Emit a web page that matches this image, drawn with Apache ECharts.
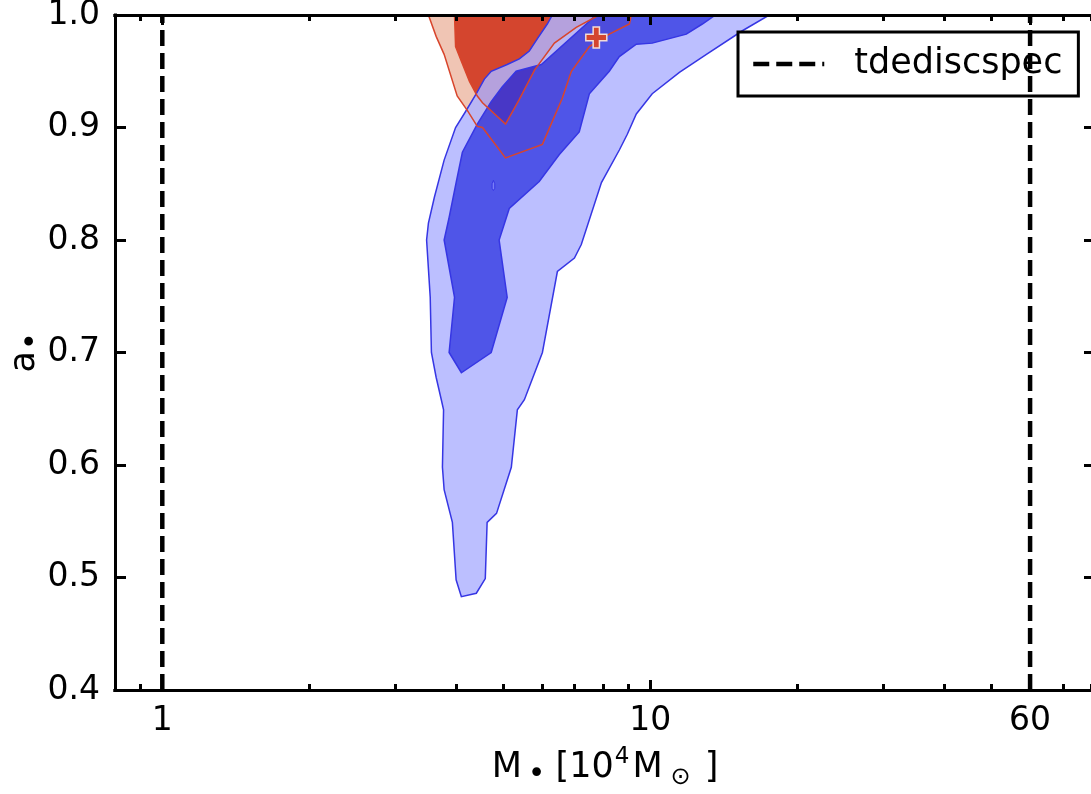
<!DOCTYPE html>
<html><head><meta charset="utf-8">
<script src="https://cdn.jsdelivr.net/npm/echarts@6/dist/echarts.min.js"></script>
<style>html,body{margin:0;padding:0;background:#fff}#c{width:1091px;height:794px}</style>
</head><body><div id="c"></div>
<script>
// ---- data (M in 1e4 Msun, a = spin) ----
const xMajorTicks = [1, 10, 60];
const xMinorTicks = [0.9, 2, 3, 4, 5, 6, 7, 8, 9, 20, 30, 40, 50, 70, 80];
const tdeLimits = [1, 60];
const bestFit = [7.75, 0.980];

const blueOuter = [
  [6.30,1.000],[17.54,1.000],[15.44,0.986],[13.03,0.965],[11.47,0.949],[10.09,0.930],
  [9.36,0.912],[8.97,0.894],[8.64,0.880],[7.94,0.851],[7.22,0.796],[6.99,0.784],
  [6.45,0.772],[6.01,0.700],[5.52,0.658],[5.34,0.649],[5.19,0.598],[4.84,0.557],
  [4.63,0.549],[4.59,0.499],[4.40,0.486],[4.10,0.483],[4.00,0.498],[3.93,0.549],
  [3.78,0.578],[3.75,0.598],[3.77,0.649],[3.73,0.658],[3.64,0.678],[3.56,0.700],
  [3.54,0.749],[3.48,0.800],[3.51,0.815],[3.61,0.838],[3.78,0.871],[3.99,0.900],
  [4.18,0.914],[4.40,0.930],[4.57,0.943],[4.72,0.950],[5.09,0.956],[5.39,0.961],
  [5.65,0.968],[5.87,0.979],[6.15,0.992]
];
const blueInner = [
  [7.71,1.000],[13.59,1.000],[12.78,0.992],[11.85,0.983],[10.09,0.975],[9.36,0.974],
  [8.64,0.963],[8.24,0.950],[7.50,0.930],[7.15,0.896],[6.51,0.876],[5.92,0.852],
  [5.14,0.828],[4.90,0.800],[5.09,0.749],[4.72,0.700],[4.10,0.682],[3.87,0.700],
  [3.97,0.749],[3.78,0.800],[3.87,0.820],[4.00,0.851],[4.12,0.878],[4.42,0.903],
  [4.72,0.923],[4.97,0.936],[5.31,0.950],[5.98,0.956],[7.57,0.996]
];
const blueIsland = [[4.77,0.853],[4.80,0.850],[4.80,0.846],[4.77,0.844],[4.74,0.846],[4.74,0.850]];
const redOuter = [
  [3.51,1.000],[9.14,1.000],[9.06,0.992],[8.24,0.983],[7.50,0.972],[6.89,0.950],
  [6.60,0.926],[6.01,0.885],[5.05,0.873],[4.53,0.900],[4.42,0.901],[4.22,0.915],
  [4.02,0.928],[3.78,0.965],[3.64,0.981]
];
const redInner = [
  [3.97,1.000],[7.86,1.000],[7.05,0.989],[6.36,0.975],[5.79,0.951],[5.39,0.925],
  [5.05,0.903],[4.53,0.922],[4.42,0.928],[4.26,0.941],[4.10,0.959],[3.99,0.972]
];

// ---- styles ----
const FONT = 'DejaVu Sans';
const C = {
  salmon: '#f0c5b4', red: '#d4452e', redLine: '#d8452c',
  light: 'rgba(175,179,255,0.84)', dark: 'rgba(45,53,228,0.84)', blueLine: '#3636e4'
};

function area(pts){let s=0;for(let i=0;i<pts.length;i++){const a=pts[i],b=pts[(i+1)%pts.length];s+=a[0]*b[1]-b[0]*a[1];}return s/2;}
function toPath(pts){return 'M'+pts.map(p=>p[0].toFixed(2)+' '+p[1].toFixed(2)).join(' L')+' Z';}

function renderContours(params, api){
  const P = poly => poly.map(p => api.coord(p));
  const ro=P(redOuter), ri=P(redInner), bo=P(blueOuter), bi=P(blueInner), isl=P(blueIsland);
  let biRev = bi.slice();
  if (Math.sign(area(bo)) === Math.sign(area(bi))) biRev.reverse();
  return {type:'group', children:[
    {type:'polygon', shape:{points:ro}, style:{fill:C.salmon}},
    {type:'polygon', shape:{points:ri}, style:{fill:C.red}},
    {type:'path', shape:{pathData: toPath(bo)+' '+toPath(biRev)}, style:{fill:C.light}},
    {type:'polygon', shape:{points:bi}, style:{fill:C.dark}},
    {type:'polygon', shape:{points:isl}, style:{fill:'rgba(150,155,255,0.6)', stroke:C.blueLine, lineWidth:1}},
    {type:'polygon', shape:{points:bo}, style:{fill:'none', stroke:C.blueLine, lineWidth:1.5}},
    {type:'polygon', shape:{points:bi}, style:{fill:'none', stroke:C.blueLine, lineWidth:1.5}},
    {type:'polygon', shape:{points:ro}, style:{fill:'none', stroke:C.redLine, lineWidth:1.5}},
    {type:'polygon', shape:{points:ri}, style:{fill:'none', stroke:C.redLine, lineWidth:1.5}}
  ]};
}

const axLine = {show:true, lineStyle:{color:'#000', width:3, cap:'square'}};
function xAx(pos, ticks, len, labels){
  return {
    type:'log', logBase:10, min:0.8, max:81.5, position:pos, gridIndex:0, z:10,
    axisLine: axLine, splitLine:{show:false}, minorTick:{show:false},
    axisTick:{show:true, inside:true, length:len, customValues:ticks, lineStyle:{color:'#000', width:3}},
    axisLabel: labels ? {show:true, customValues:ticks, color:'#000', fontSize:33, fontFamily:FONT, margin:15,
      formatter: v => String(Math.round(v))} : {show:false}
  };
}
function yAx(pos, labels){
  return {
    type:'value', min:0.4, max:1.0, interval:0.1, position:pos, z:10,
    axisLine: axLine, splitLine:{show:false},
    axisTick:{show:true, inside:true, length:11, lineStyle:{color:'#000', width:3}},
    axisLabel: labels ? {show:true, color:'#000', fontSize:33, fontFamily:FONT, margin:15,
      formatter: v => v.toFixed(1)} : {show:false}
  };
}

const xBottom = xAx('bottom', xMajorTicks, 10, true);
xBottom.name = '{m|M}{b|•}{m|[10}{sp|4}{m|M}{sb|⊙}{m|]}';
xBottom.nameLocation = 'middle';
xBottom.nameGap = 56;
xBottom.nameTextStyle = {color:'#000', fontFamily:FONT, rich:{
  m:{fontSize:35, fontFamily:FONT, color:'#000', lineHeight:44, verticalAlign:'middle'},
  b:{fontSize:30, fontFamily:FONT, color:'#000', lineHeight:28, verticalAlign:'bottom', padding:[0,10,0,6]},
  sp:{fontSize:23, fontFamily:FONT, color:'#000', lineHeight:28, verticalAlign:'top', padding:[0,3,0,1]},
  sb:{fontSize:24, fontFamily:FONT, color:'#000', lineHeight:22, verticalAlign:'bottom', padding:[0,14,0,8]}
}};

const yLeft = yAx('left', true);
yLeft.name = '{m|a}{b|•}';
yLeft.nameLocation = 'middle';
yLeft.nameGap = 68;
yLeft.nameRotate = 90;
yLeft.nameMoveOverlap = false;
yLeft.nameTextStyle = {color:'#000', fontFamily:FONT, rich:{
  m:{fontSize:35, fontFamily:FONT, color:'#000', lineHeight:44, verticalAlign:'middle'},
  b:{fontSize:30, fontFamily:FONT, color:'#000', lineHeight:28, verticalAlign:'bottom', padding:[0,0,0,1]}
}};

const option = {
  animation:false,
  backgroundColor:'#fff',
  grid:{left:115, top:15, width:980, height:675, show:false, outerBoundsMode:'none'},
  legend:{data:['tdediscspec'], left:738, top:32, padding:[13,16,13,13], backgroundColor:'#fff',
    borderColor:'#000', borderWidth:3, borderRadius:0, itemWidth:71, itemHeight:24, selectedMode:false,
    textStyle:{fontSize:35, fontFamily:FONT, color:'#000', lineHeight:38, padding:[0,0,0,25]},
    itemStyle:{color:'rgba(0,0,0,0)', borderColor:'rgba(0,0,0,0)', borderWidth:0, opacity:0},
    lineStyle:{width:4.5, type:[16,7], color:'#000'}},
  xAxis:[xBottom, xAx('bottom', xMinorTicks, 6, false), xAx('top', xMajorTicks, 10, false), xAx('top', xMinorTicks, 6, false)],
  yAxis:[yLeft, yAx('right', false)],
  series:[
    {type:'custom', name:'contours', xAxisIndex:0, yAxisIndex:0, data:[bestFit], renderItem:renderContours, z:2, silent:true},
    ...tdeLimits.map(m => ({type:'line', name:'tdediscspec', xAxisIndex:0, yAxisIndex:0, data:[[m,0.4],[m,1.0]],
      symbol:'none', z:5, lineStyle:{color:'#000', width:4.5, type:[16,7]}})),
    {type:'scatter', name:'best', xAxisIndex:0, yAxisIndex:0, data:[bestFit], z:8,
      symbol:'path://M3.5,0H6.5V3.5H10V6.5H6.5V10H3.5V6.5H0V3.5H3.5Z', symbolSize:21,
      itemStyle:{color:'#d4452e', borderColor:'#f3dcd6', borderWidth:1.5, opacity:1}}
  ]
};
const chart = echarts.init(document.getElementById('c'));
chart.setOption(option);
</script></body></html>
